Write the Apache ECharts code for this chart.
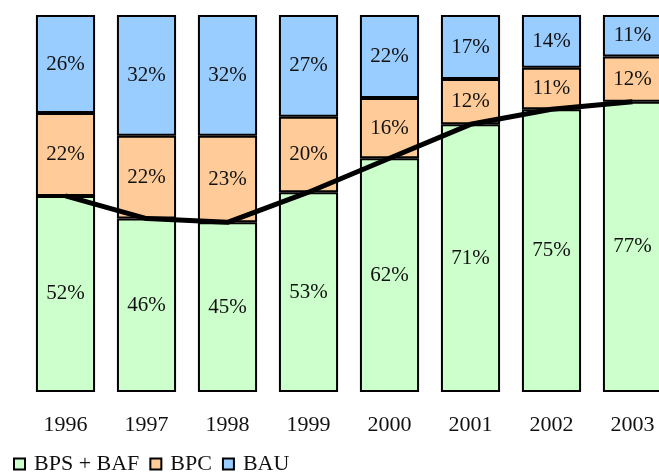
<!DOCTYPE html>
<html>
<head>
<meta charset="utf-8">
<script src="https://cdn.jsdelivr.net/npm/echarts@6/dist/echarts.min.js"></script>
<style>
html, body { margin: 0; padding: 0; background: #fff; }
#chart { width: 659px; height: 475px; }
</style>
</head>
<body>
<div id="chart"></div>
<script>
var years = ['1996', '1997', '1998', '1999', '2000', '2001', '2002', '2003'];
var bpsBaf = [52, 46, 45, 53, 62, 71, 75, 77];
var bpc = [22, 22, 23, 20, 16, 12, 11, 12];
var bau = [26, 32, 32, 27, 22, 17, 14, 11];

var chart = echarts.init(document.getElementById('chart'));

var labelStyle = {
    show: true,
    position: 'inside',
    formatter: '{c}%',
    fontFamily: 'Liberation Serif',
    fontSize: 21,
    color: '#111'
};

function barSeries(name, data, color) {
    return {
        name: name,
        type: 'bar',
        stack: 'total',
        barWidth: '73%',
        data: data,
        itemStyle: {
            color: color,
            borderColor: '#000',
            borderWidth: 2
        },
        label: labelStyle
    };
}

var option = {
    animation: false,
    grid: {
        left: 25,
        top: 15,
        width: 648,
        height: 377,
        outerBoundsMode: 'none',
        containLabel: false
    },
    legend: {
        left: 8,
        bottom: -5,
        itemWidth: 11,
        itemHeight: 11,
        itemGap: 10,
        icon: 'rect',
        data: ['BPS + BAF', 'BPC', 'BAU'],
        textStyle: {
            fontFamily: 'Liberation Serif',
            fontSize: 22,
            color: '#111',
            padding: [0, 0, 0, 4]
        },
        itemStyle: {
            borderColor: '#000',
            borderWidth: 2
        }
    },
    xAxis: {
        type: 'category',
        data: years,
        axisLine: { show: false },
        axisTick: { show: false },
        axisLabel: {
            margin: 22,
            fontFamily: 'Liberation Serif',
            fontSize: 22,
            color: '#111'
        }
    },
    yAxis: {
        type: 'value',
        min: 0,
        max: 100,
        show: false
    },
    series: [
        barSeries('BPS + BAF', bpsBaf, '#ccffcc'),
        barSeries('BPC', bpc, '#ffcc99'),
        barSeries('BAU', bau, '#99ccff'),
        {
            name: 'trend',
            type: 'line',
            data: bpsBaf,
            showSymbol: false,
            z: 10,
            lineStyle: { color: '#000', width: 5 }
        }
    ]
};

chart.setOption(option);
</script>
</body>
</html>
